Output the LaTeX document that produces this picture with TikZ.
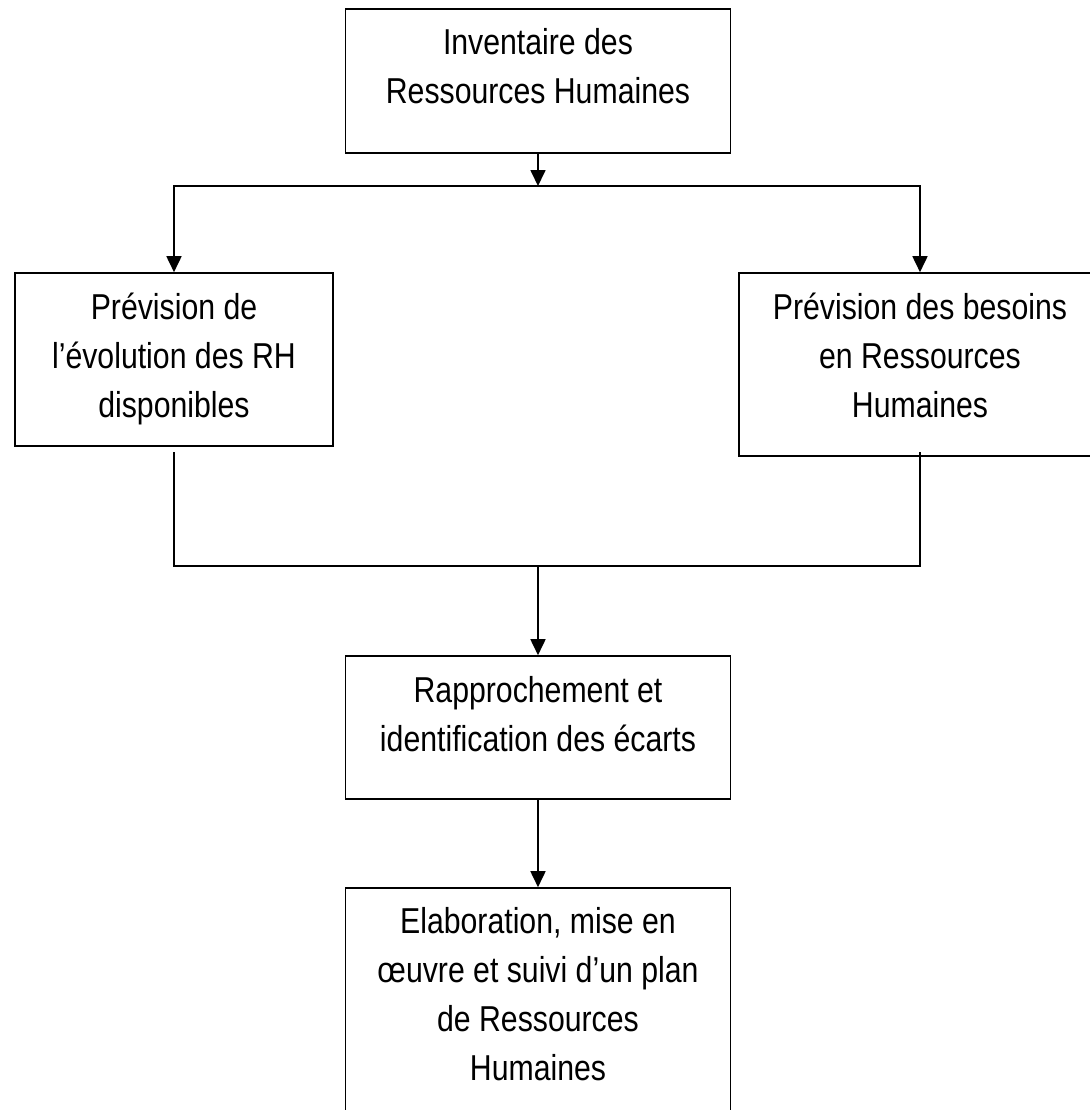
\documentclass[tikz,border=0pt]{standalone}
\usepackage{fontspec}
\setmainfont{Liberation Sans}[FakeStretch=0.84]
\usetikzlibrary{arrows.meta}
\newlength{\pxu}
\setlength{\pxu}{0.5pt}

\begin{document}
\begin{tikzpicture}[
    x=0.5pt, y=-0.5pt,
    box/.style={draw, line width=0.8pt, inner sep=0pt},
    boxtext/.style={anchor=north, align=center, inner sep=0pt,
                    font=\fontsize{18}{24.5}\selectfont},
    link/.style={line width=0.85pt},
    arr/.style={link, -{Triangle[length=8pt,width=7.5pt]}}
  ]
    \clip (0,0) rectangle (1090,1110);

    \node[box, minimum width=385\pxu, minimum height=144\pxu] (inv)   at (538,81)     {};
    \node[box, minimum width=318\pxu, minimum height=173\pxu] (prev)  at (174,359.5)  {};
    \node[box, minimum width=362\pxu, minimum height=183\pxu] (bes)   at (920,364.5)  {};
    \node[box, minimum width=385\pxu, minimum height=143\pxu] (ecart) at (538,727.5)  {};
    \node[box, minimum width=385\pxu, minimum height=260\pxu] (plan)  at (538,1018)   {};

    \node[boxtext] (inv-t)   at ([yshift=-20\pxu]inv.north)   {Inventaire des\\Ressources Humaines};
    \node[boxtext] (prev-t)  at ([yshift=-20\pxu]prev.north)  {Prévision de\\l’évolution des RH\\disponibles};
    \node[boxtext] (bes-t)   at ([yshift=-20\pxu]bes.north)   {Prévision des besoins\\en Ressources\\Humaines};
    \node[boxtext] (ecart-t) at ([yshift=-21\pxu]ecart.north) {Rapprochement et\\identification des écarts};
    \node[boxtext] (plan-t)  at ([yshift=-20\pxu]plan.north)  {Elaboration, mise en\\œuvre et suivi d’un plan\\de Ressources\\Humaines};

    \coordinate (split)     at (538,186);
    \coordinate (prev-foot) at (174,452);
    \coordinate (bes-foot)  at (920,452);
    \coordinate (join)      at (538,566);

    \draw[arr] (inv.south) -- (split);
    \draw[arr] (split) -| (prev.north);
    \draw[arr] (split) -| (bes.north);
    \draw[link] (prev-foot) |- (join) -| (bes-foot);
    \draw[arr] (join) -- (ecart.north);
    \draw[arr] (ecart.south) -- (plan.north);
\end{tikzpicture}
\end{document}
